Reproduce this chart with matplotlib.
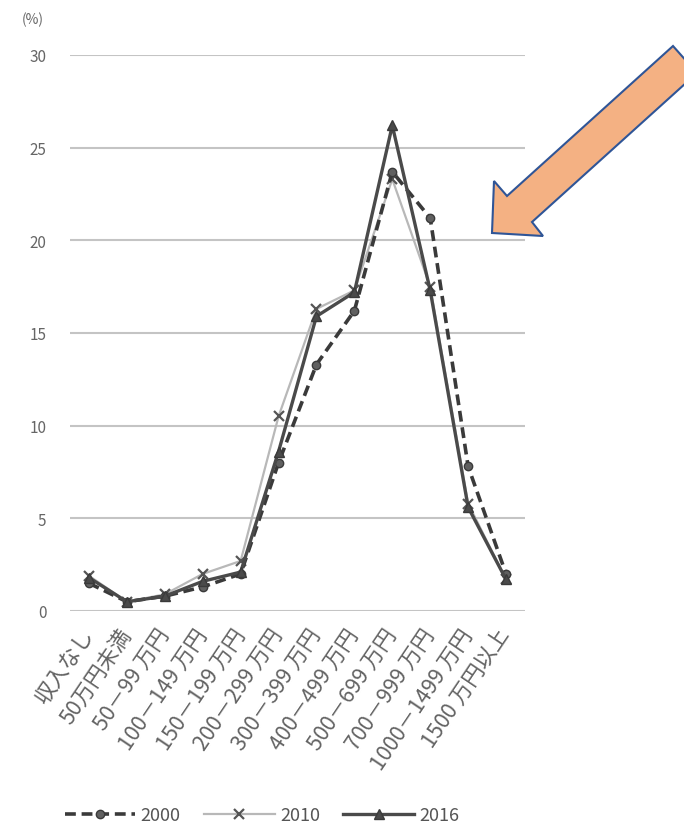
import matplotlib
matplotlib.use("Agg")
import matplotlib.pyplot as plt
from matplotlib.patches import Polygon

plt.rcParams['font.family'] = ['Noto Sans CJK JP', 'DejaVu Sans']

categories = ["収入なし", "50万円未満", "50－99 万円", "100－149 万円", "150－199 万円",
              "200－299 万円", "300－399 万円", "400－499 万円", "500－699 万円",
              "700－999 万円", "1000－1499 万円", "1500 万円以上"]
share_2000 = [1.5, 0.5, 0.8, 1.3, 2.0, 8.0, 13.3, 16.2, 23.7, 21.2, 7.8, 2.0]
share_2010 = [1.9, 0.5, 0.9, 2.0, 2.7, 10.5, 16.3, 17.3, 23.3, 17.5, 5.8, 1.7]
share_2016 = [1.8, 0.5, 0.8, 1.6, 2.1, 8.6, 15.9, 17.2, 26.2, 17.3, 5.6, 1.7]
series_labels = ["2000", "2010", "2016"]
y_ticks = [0, 5, 10, 15, 20, 25, 30]

W, H = 684, 829
fig = plt.figure(figsize=(W / 100, H / 100), dpi=100)
ax = fig.add_axes([70 / W, 1 - 612 / H, 455 / W, 556 / H])

x = list(range(len(categories)))
l1, = ax.plot(x, share_2000, color="#3a3a3a", lw=2.6, ls=(0, (3, 1.6)),
              marker="o", ms=6, mfc="#606060", mec="#3a3a3a", zorder=3)
l2, = ax.plot(x, share_2010, color="#b8b8b8", lw=1.6, marker="x", ms=7,
              mec="#555555", mew=1.6, zorder=2)
l3, = ax.plot(x, share_2016, color="#4a4a4a", lw=2.4, marker="^", ms=7,
              mfc="#4a4a4a", mec="#3a3a3a", zorder=4)

ax.set_xlim(-0.5, len(categories) - 0.5)
ax.set_ylim(0, 30)
ax.set_yticks(y_ticks)
ax.set_yticklabels([str(v) for v in y_ticks], fontsize=11, color="#666666")
ax.yaxis.grid(True, color="#c4c4c4", lw=1.5)
ax.set_axisbelow(True)
for s in ax.spines.values():
    s.set_visible(False)
ax.tick_params(axis="both", length=0)
ax.tick_params(axis="y", pad=17)
ax.set_xticks(x)
ax.set_xticklabels(categories, rotation=56, ha="right", rotation_mode="anchor",
                   va="center", fontsize=15.5, color="#636363")
ax.tick_params(axis="x", pad=14)

fig.text(33 / W, 1 - 20 / H, "(%)", fontsize=10, color="#666666", ha="center", va="center")

fig.legend([l1, l2, l3], series_labels, loc="center", bbox_to_anchor=(262 / W, 1 - 816 / H),
           ncol=3, frameon=False, fontsize=13, handlelength=3.9, columnspacing=1.3,
           handletextpad=0.3, labelcolor="#555555")

# Callout arrow
pts = [(492, 234), (494, 182), (507, 197), (673, 47), (697, 74), (532, 223), (543, 237)]
arrow = Polygon([(px / W, 1 - py / H) for px, py in pts], closed=True,
                transform=fig.transFigure, facecolor="#F4B183", edgecolor="#2F5597",
                lw=1.5, zorder=10)
fig.add_artist(arrow)

fig.savefig("out.png", dpi=100)
